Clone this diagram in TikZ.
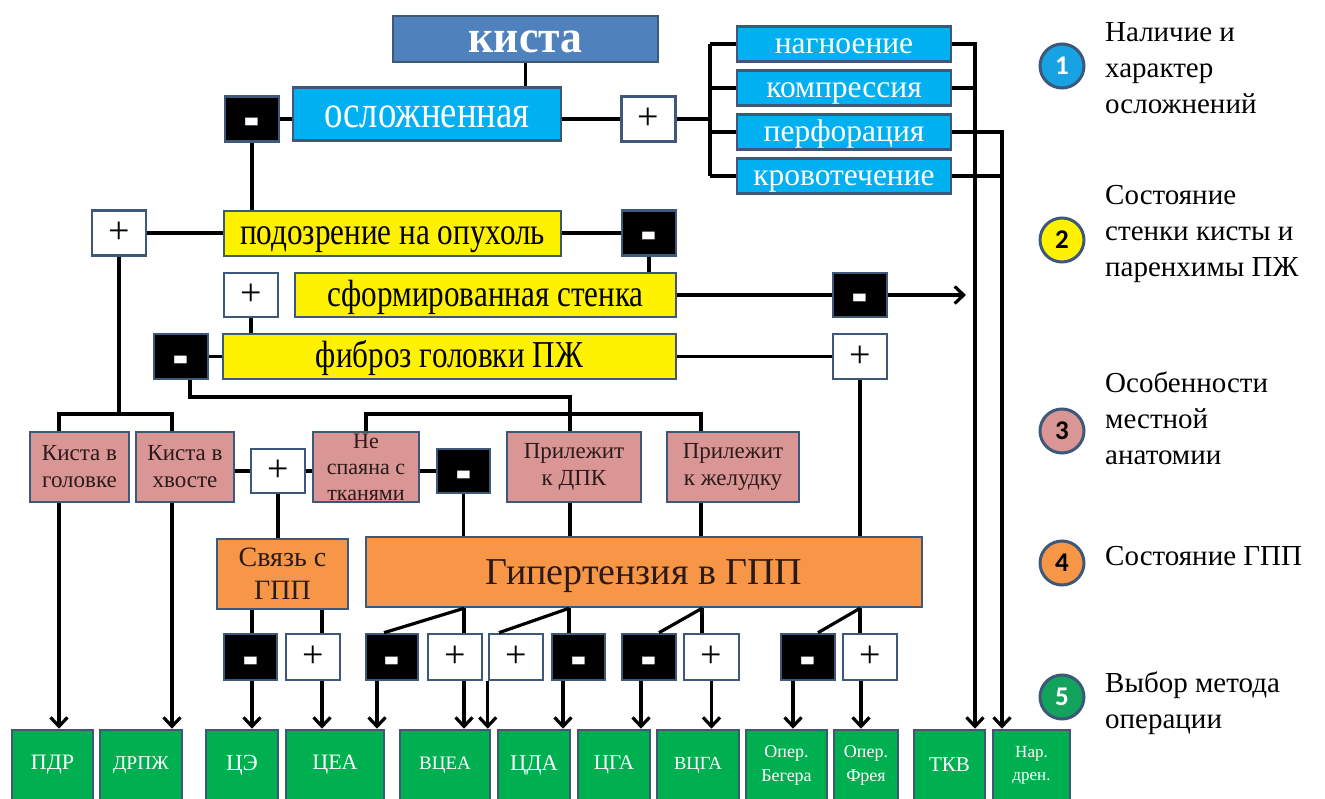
\documentclass[tikz,border=0pt]{standalone}
\usepackage{fontspec}
\usepackage{graphicx}
\setmainfont{Liberation Serif}
\newfontfamily\numfont{Carlito}
\newfontfamily\dashfont{DejaVu Sans}
\usetikzlibrary{arrows.meta,calc}
\definecolor{bordc}{HTML}{3E5879}
\definecolor{kistac}{HTML}{4F81BD}
\definecolor{cyanc}{HTML}{00B0F0}
\definecolor{pinkc}{HTML}{D99694}
\definecolor{orangec}{HTML}{F79646}
\definecolor{greenc}{HTML}{00B050}
\definecolor{leg1}{HTML}{17A2E3}
\definecolor{leg5}{HTML}{12A35C}
\definecolor{darktext}{HTML}{2A1A1A}
\newcommand\mns{\raisebox{-19pt}[0pt][0pt]{\scalebox{1.35}[1.8]{\dashfont\bfseries -}}}
\begin{document}
\begin{tikzpicture}[x=1pt,y=-1pt,
  bbase/.style={draw=bordc, line width=2.6pt, inner sep=0pt, align=center, rectangle},
  sqbox/.style={bbase, minimum width=54pt, minimum height=45pt},
  negbox/.style={sqbox, fill=black, text=white, font=\fontsize{30}{30}\selectfont},
  posbox/.style={sqbox, fill=white, text=black, font=\fontsize{38}{38}\selectfont},
  cyanbox/.style={bbase, fill=cyanc, text=white},
  compbox/.style={cyanbox, minimum width=214pt, minimum height=35.5pt, text height=25.2pt, text depth=6.3pt, font=\fontsize{31.5}{31.5}\selectfont},
  yelbox/.style={bbase, fill=yellow, text=black, minimum height=45pt, text height=30.4pt, text depth=7.6pt, font=\fontsize{38}{38}\selectfont},
  pinkbox/.style={bbase, fill=pinkc, text=darktext, minimum height=70pt, font=\fontsize{23}{27}\selectfont},
  ornbox/.style={bbase, fill=orangec, text=darktext, minimum height=70pt},
  grnbox/.style={bbase, fill=greenc, text=white, minimum height=70pt},
  conn/.style={line width=3.2pt, black},
  arr/.style={conn, -{Straight Barb[length=9pt,width=17pt]}},
  legc/.style={circle, draw=bordc, line width=3pt, minimum size=44pt, inner sep=0pt, font=\numfont\bfseries\fontsize{27}{27}\selectfont},
  legt/.style={anchor=west, align=left, inner sep=0pt, font=\fontsize{29}{36}\selectfont, text=black}
]
\fill[white] (0,0) rectangle (1325,799);
\useasboundingbox (0,0) rectangle (1325,799);

% level 1
\node[bbase, fill=kistac, text=white, minimum width=265pt, minimum height=46pt, text height=36.8pt, text depth=9.2pt, font=\bfseries\fontsize{46}{46}\selectfont] (kista) at (525.5,39) {\scalebox{0.95}[1]{киста}};
\node[cyanbox, minimum width=268pt, minimum height=53pt, text height=36.8pt, text depth=9.2pt, font=\fontsize{46}{46}\selectfont] (osl) at (427,114) {\scalebox{0.8}[1]{осложненная}};
\node[negbox] (m1) at (252,119) {\mns};
\node[posbox] (p1) at (648.5,119) {+};
\node[compbox] (nag) at (844,44) {нагноение};
\node[compbox] (komp) at (844,88) {компрессия};
\node[compbox] (perf) at (844,132) {перфорация};
\node[compbox] (krov) at (844,176) {кровотечение};

% level 2
\node[yelbox, minimum width=337pt] (pod) at (392.5,233.5) {\scalebox{0.82}[1]{подозрение на опухоль}};
\node[posbox] (p2) at (119,233) {+};
\node[negbox] (m2) at (649,233) {\mns};
\node[yelbox, minimum width=381pt, minimum height=44pt] (sform) at (485.5,295) {\scalebox{0.82}[1]{сформированная стенка}};
\node[posbox, minimum height=44pt] (p3) at (251,295) {+};
\node[negbox, minimum height=44pt] (m3) at (860,295) {\mns};
\node[yelbox, minimum width=453pt] (fib) at (449.5,356.5) {\scalebox{0.82}[1]{фиброз головки ПЖ}};
\node[negbox] (m4) at (181,356.5) {\mns};
\node[posbox] (p4) at (860,356.5) {+};

% level 3
\node[pinkbox, minimum width=99pt] (kg) at (79.5,467) {Киста в\\головке};
\node[pinkbox, minimum width=98pt] (kh) at (185,467) {Киста в\\хвосте};
\node[posbox, minimum height=44pt] (p5) at (278,471) {+};
\node[pinkbox, minimum width=106pt, font=\fontsize{22}{26}\selectfont] (ns) at (366,467) {Не\\спаяна с\\тканями};
\node[negbox, minimum width=53pt, minimum height=44pt] (m5) at (463.5,471) {\mns};
\node[pinkbox, minimum width=134pt] (dpk) at (574,467) {Прилежит\\к ДПК};
\node[pinkbox, minimum width=132pt] (zhel) at (733,467) {Прилежит\\к желудку};

% level 4
\node[ornbox, minimum width=131pt, font=\fontsize{28}{33}\selectfont] (svz) at (282.5,574) {Связь с\\ГПП};
\node[ornbox, minimum width=556pt, text height=30.4pt, text depth=5.3pt, font=\fontsize{38}{38}\selectfont] (hyp) at (644,572) {Гипертензия в ГПП};

% sign row
\node[negbox, minimum width=53pt, minimum height=46pt] (m6) at (250.5,657) {\mns};
\node[posbox, minimum height=46pt] (p6) at (313,657) {+};
\node[negbox, minimum width=52pt, minimum height=46pt] (m7) at (392,657) {\mns};
\node[posbox, minimum height=46pt] (p7) at (455,657) {+};
\node[posbox, minimum height=46pt] (p8) at (516,657) {+};
\node[negbox, minimum width=53pt, minimum height=46pt] (m8) at (578.5,657) {\mns};
\node[negbox, minimum height=46pt] (m9) at (649,657) {\mns};
\node[posbox, minimum width=55pt, minimum height=46pt] (p9) at (711.5,657) {+};
\node[negbox, minimum height=46pt] (m10) at (808,657) {\mns};
\node[posbox, minimum height=46pt] (p10) at (870,657) {+};

% level 5
\node[grnbox, minimum width=81pt, font=\fontsize{22}{22}\selectfont] (pdr) at (52.5,765) {ПДР};
\node[grnbox, minimum width=82pt, font=\fontsize{19.5}{19.5}\selectfont] (drpzh) at (141,765) {ДРПЖ};
\node[grnbox, minimum width=72pt, font=\fontsize{23}{23}\selectfont] (tse) at (242,765) {ЦЭ};
\node[grnbox, minimum width=98pt, font=\fontsize{22}{22}\selectfont] (tsea) at (335,765) {ЦЕА};
\node[grnbox, minimum width=90pt, font=\fontsize{19}{19}\selectfont] (vtsea) at (445,765) {ВЦЕА};
\node[grnbox, minimum width=72pt, font=\fontsize{22.5}{22.5}\selectfont] (tsda) at (534,765) {ЦДА};
\node[grnbox, minimum width=72pt, font=\fontsize{21}{21}\selectfont] (tsga) at (614,765) {ЦГА};
\node[grnbox, minimum width=82pt, font=\fontsize{18.5}{18.5}\selectfont] (vtsga) at (698,765) {ВЦГА};
\node[grnbox, minimum width=81pt, font=\fontsize{18}{24}\selectfont] (beg) at (786.5,765) {Опер.\\Бегера};
\node[grnbox, minimum width=64pt, font=\fontsize{18}{24}\selectfont] (frey) at (866,765) {Опер.\\Фрея};
\node[grnbox, minimum width=71pt, font=\fontsize{21}{21}\selectfont] (tkv) at (949.5,765) {ТКВ};
\node[grnbox, minimum width=77pt, font=\fontsize{17}{23}\selectfont] (nar) at (1031.5,765) {Нар.\\дрен.};

% helper coordinates
\coordinate (br) at (710,0);
\coordinate (tvx) at (975,0);
\coordinate (nvx) at (1002,0);
\coordinate (wallx) at (966,0);
\coordinate (m4x) at (190,0);
\coordinate (xa) at (570,397);
\coordinate (bus3) at (0,414);
\coordinate (zx) at (701,0);
\coordinate (kgx) at (59,0);
\coordinate (khx) at (172,0);
\coordinate (s1) at (252,0);
\coordinate (s2) at (322,0);
\coordinate (h1) at (464,0);
\coordinate (h2) at (569,0);
\coordinate (h3) at (702,0);
\coordinate (h4) at (860,0);

% level 1 connectors
\draw[conn] (kista.south) -- (kista.south |- osl.north);
\draw[conn] (m1.east) -- (m1.east -| osl.west);
\draw[conn] (p1.west) -- (p1.west -| osl.east);
\draw[conn] (p1.east) -- (p1.east -| br);
\draw[conn] (nag.west -| br) -- (krov.west -| br);
\foreach \n in {nag,komp,perf,krov} {\draw[conn] (\n.west -| br) -- (\n.west);}
\draw[arr] (nag.east) -| (tkv.north -| tvx);
\draw[conn] (komp.east) -- (komp.east -| tvx);
\draw[arr] (perf.east) -| (nar.north -| nvx);
\draw[conn] (krov.east) -- (krov.east -| nvx);

% level 2 connectors
\draw[conn] (m1.south) -- (m1.south |- pod.north);
\draw[conn] (p2.east) -- (p2.east -| pod.west);
\draw[conn] (m2.west -| pod.east) -- (m2.west);
\draw[conn] (m2.south) -- (m2.south |- sform.north);
\draw[conn] (sform.east) -- (m3.west);
\draw[arr] (m3.east) -- (m3.east -| wallx);
\draw[conn] (p3.south) -- (p3.south |- fib.north);
\draw[conn] (m4.east) -- (fib.west);
\draw[conn] (fib.east) -- (p4.west);
\draw[conn] (p4.south) -- (p4.south |- hyp.north);

% level 3 connectors
\draw[conn] (m4.south -| m4x) |- (xa) -- (xa |- dpk.north);
\draw[conn] (ns.north) -- (ns.north |- bus3) -- (zx |- bus3) -- (zx |- zhel.north);
\draw[conn] (p2.south) -- (p2.south |- bus3);
\draw[conn] (kgx |- kg.north) -- (kgx |- bus3) -- (khx |- bus3) -- (khx |- kh.north);
\draw[arr] (kgx |- kg.south) -- (kgx |- pdr.north);
\draw[arr] (khx |- kh.south) -- (khx |- drpzh.north);
\draw[conn] (p5.west) -- (p5.west -| kh.east);
\draw[conn] (p5.east) -- (p5.east -| ns.west);
\draw[conn] (m5.west) -- (m5.west -| ns.east);
\draw[conn] (p5.south) -- (p5.south |- svz.north);
\draw[conn] (m5.south) -- (m5.south |- hyp.north);
\draw[conn] (xa |- dpk.south) -- (xa |- hyp.north);
\draw[conn] (zx |- zhel.south) -- (zx |- hyp.north);

% level 4 connectors
\draw[conn] (s1 |- svz.south) -- (s1 |- m6.north);
\draw[arr] (s1 |- m6.south) -- (s1 |- tse.north);
\draw[conn] (s2 |- svz.south) -- (s2 |- p6.north);
\draw[arr] (s2 |- p6.south) -- (s2 |- tsea.north);

\coordinate (d7) at ($(m7.north)+(-8,0)$);
\coordinate (d8) at ($(p8.north)+(-17,0)$);
\coordinate (d9) at ($(m9.north)+(10,0)$);
\coordinate (d10) at ($(m10.north)+(10,0)$);
\coordinate (a7) at ($(m7.south)+(-15,0)$);
\coordinate (a8) at (p8.south west);
\coordinate (b8) at ($(m8.south)+(-15.5,0)$);
\coordinate (a9) at ($(m9.south)+(-8,0)$);
\coordinate (a10) at ($(m10.south)+(-15,0)$);
\coordinate (b10) at ($(p10.south)+(-9,0)$);

\draw[conn] (h1 |- hyp.south) -- (h1 |- p7.north);
\draw[conn] (h1 |- hyp.south) -- (d7);
\draw[conn] (h2 |- hyp.south) -- (h2 |- m8.north);
\draw[conn] (h2 |- hyp.south) -- (d8);
\draw[conn] (h3 |- hyp.south) -- (h3 |- p9.north);
\draw[conn] (h3 |- hyp.south) -- (d9);
\draw[conn] (h4 |- hyp.south) -- (h4 |- p10.north);
\draw[conn] (h4 |- hyp.south) -- (d10);

\draw[arr] (a7) -- (a7 |- tsea.north);
\draw[arr] (h1 |- p7.south) -- (h1 |- vtsea.north);
\draw[arr] (a8) -- (a8 |- vtsea.north);
\draw[arr] (b8) -- (b8 |- tsda.north);
\draw[arr] (a9) -- (a9 |- tsga.north);
\draw[arr] (p9.south) -- (p9.south |- vtsga.north);
\draw[arr] (a10) -- (a10 |- beg.north);
\draw[arr] (b10) -- (b10 |- frey.north);

% legend
\node[legc, fill=leg1, text=white] (l1) at (1062,66) {1};
\node[legc, fill=yellow, text=black] (l2) at (1062,240) {2};
\node[legc, fill=pinkc, text=black] (l3) at (1062,431) {3};
\node[legc, fill=orangec, text=black] (l4) at (1062,563) {4};
\node[legc, fill=leg5, text=white] (l5) at (1062,697) {5};
\node[legt] (t1) at (1105,68) {Наличие и\\характер\\осложнений};
\node[legt] (t2) at (1105,234) {Состояние\\стенки кисты и\\паренхимы ПЖ};
\node[legt] (t3) at (1105,418) {Особенности\\местной\\анатомии};
\node[legt] (t4) at (1105,556) {Состояние ГПП};
\node[legt] (t5) at (1105,703) {Выбор метода\\операции};
\end{tikzpicture}
\end{document}
